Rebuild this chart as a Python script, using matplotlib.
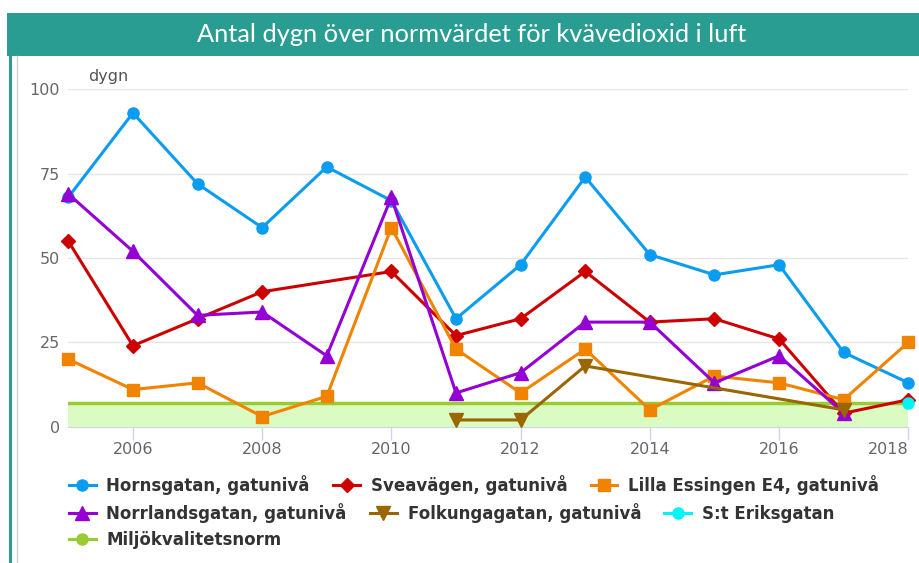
import matplotlib
matplotlib.use("Agg")
import matplotlib.pyplot as plt
from matplotlib.patches import Rectangle
from matplotlib.lines import Line2D
import numpy as np

years = list(range(2005, 2019))
hornsgatan = [68, 93, 72, 59, 77, 67, 32, 48, 74, 51, 45, 48, 22, 13]
sveavagen = [55, 24, 32, 40, None, 46, 27, 32, 46, 31, 32, 26, 4, 8]
lilla_essingen = [20, 11, 13, 3, 9, 59, 23, 10, 23, 5, 15, 13, 8, 25]
norrlandsgatan = [69, 52, 33, 34, 21, 68, 10, 16, 31, 31, 13, 21, 4, None]
folkungagatan = [None, None, None, None, None, None, 2, 2, 18, None, None, None, 5, None]
st_eriksgatan = [None] * 13 + [7]
norm_value = 7

y_ticks = [0, 25, 50, 75, 100]
x_ticks = [2006, 2008, 2010, 2012, 2014, 2016, 2018]

series = [
    ("Hornsgatan, gatunivå", hornsgatan, "#0a9cf0", "o", 8),
    ("Sveavägen, gatunivå", sveavagen, "#cc0000", "D", 7),
    ("Lilla Essingen E4, gatunivå", lilla_essingen, "#f08300", "s", 8),
    ("Norrlandsgatan, gatunivå", norrlandsgatan, "#9400d3", "^", 10),
    ("Folkungagatan, gatunivå", folkungagatan, "#996600", "v", 10),
    ("S:t Eriksgatan", st_eriksgatan, "#00f5f5", "o", 8),
]

W, H = 920, 563
fig = plt.figure(figsize=(W / 100, H / 100), dpi=100)

# title band and left border
fig.add_artist(Rectangle((7 / W, 1 - 56 / H), 1, 43 / H, transform=fig.transFigure,
                         color="#2a9d93", lw=0))
fig.add_artist(Rectangle((9 / W, 0), 3 / W, 1 - 56 / H, transform=fig.transFigure,
                         color="#2a9d93", lw=0))
fig.add_artist(Line2D([17 / W, 17 / W], [0, 1 - 56 / H], transform=fig.transFigure,
                      color="#d0d0d0", lw=1))
fig.text(472 / W, 1 - 35 / H, "Antal dygn över normvärdet för kvävedioxid i luft",
         color="white", fontsize=18.3, family="Lato", ha="center", va="center")

ax = fig.add_axes([68.3 / W, 1 - 426.7 / H, 840 / W, 337.4 / H])
ax.set_xlim(2005, 2018)
ax.set_ylim(0, 100)

# environmental quality norm
ax.axhspan(0, norm_value, color="#dafbc2", lw=0, zorder=1)
ax.axhline(norm_value, color="#99cc33", lw=2.5, zorder=2)

handles = []
for name, vals, col, mk, ms in series:
    xs = [x for x, v in zip(years, vals) if v is not None]
    ys = [v for v in vals if v is not None]
    h, = ax.plot(xs, ys, color=col, lw=2.2, marker=mk, markersize=ms,
                 clip_on=False, zorder=3, label=name)
    handles.append(h)
handles.append(Line2D([], [], color="#99cc33", lw=2.2, marker="o", markersize=8,
                      label="Miljökvalitetsnorm"))

ax.set_yticks(y_ticks)
ax.set_xticks(x_ticks)
ax.grid(axis="y", color="#e6e6e6", lw=1)
ax.set_axisbelow(True)
for s in ["top", "right", "left"]:
    ax.spines[s].set_visible(False)
ax.spines["bottom"].set_color("#ccd6eb")
ax.tick_params(axis="y", length=0, pad=6, labelsize=11.5, labelcolor="#666666")
ax.tick_params(axis="x", length=9, width=1, color="#ccd6eb", pad=2,
               labelsize=11.5, labelcolor="#666666")
ax.get_xticklabels()[-1].set_ha("right")
ax.text(88 / W, 1 - 77 / H, "dygn", transform=fig.transFigure, fontsize=11.5,
        color="#555555", va="center")

# legend, one row at a time
rows = [handles[0:3], handles[3:6], handles[6:7]]
row_y = [485, 513, 540]
for hs, yy in zip(rows, row_y):
    fig.legend(handles=hs, loc="center left", bbox_to_anchor=(69 / W, 1 - yy / H),
               ncol=len(hs), frameon=False, borderpad=0, borderaxespad=0,
               handlelength=1.6, handletextpad=0.65, columnspacing=1.4,
               prop={"family": "DejaVu Sans", "weight": "bold", "size": 12},
               labelcolor="#333333")

fig.savefig("out.png", dpi=100)
